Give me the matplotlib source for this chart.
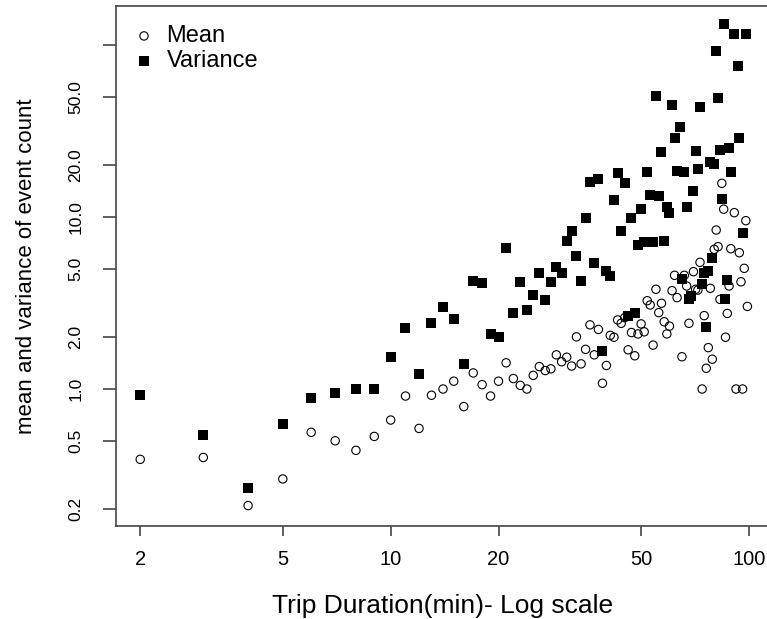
import matplotlib
matplotlib.use("Agg")
import matplotlib.pyplot as plt
from matplotlib.ticker import FixedLocator, NullLocator

plt.rcParams['font.family'] = ['Liberation Sans', 'DejaVu Sans']

# trip duration (min) and mean event count
mean_dur = [2, 3, 4, 5, 6, 7, 8, 9, 10, 11, 12, 13, 14, 15, 16, 17, 18, 19, 20,
            21, 22, 23, 24, 25, 26, 27, 28, 29, 30, 31, 32, 33, 34, 35, 36, 37,
            38, 39, 40, 41, 42, 43, 44, 45, 46, 47, 48, 49, 50, 51, 52, 53, 54,
            55, 56, 57, 58, 59, 60, 61, 62, 63, 65, 66, 67, 68, 70, 71, 72, 73,
            74, 75, 76, 77, 78, 79, 80, 81, 82, 83, 84, 85, 86, 87, 88, 89, 91,
            92, 94, 95, 96, 97, 98, 99]
mean_val = [0.39, 0.40, 0.21, 0.30, 0.56, 0.50, 0.44, 0.53, 0.66, 0.91, 0.59,
            0.92, 1.00, 1.11, 0.79, 1.24, 1.06, 0.91, 1.11, 1.42, 1.15, 1.05,
            1.00, 1.20, 1.35, 1.28, 1.31, 1.58, 1.44, 1.53, 1.36, 2.01, 1.40,
            1.70, 2.36, 1.58, 2.22, 1.08, 1.37, 2.05, 2.00, 2.52, 2.41, 2.60,
            1.69, 2.13, 1.56, 2.09, 2.39, 2.15, 3.26, 3.08, 1.80, 3.80, 2.78,
            3.15, 2.46, 2.09, 2.32, 3.73, 4.58, 3.40, 1.54, 4.58, 3.97, 2.41,
            4.81, 3.80, 3.76, 5.45, 1.00, 2.67, 1.32, 1.74, 3.85, 1.49, 6.49,
            8.40, 6.72, 3.32, 15.7, 11.1, 2.00, 2.75, 3.97, 6.54, 10.6, 1.00,
            6.20, 4.20, 1.00, 5.03, 9.52, 3.02]

# trip duration (min) and variance of event count
var_dur = [2, 3, 4, 5, 6, 7, 8, 9, 10, 11, 12, 13, 14, 15, 16, 17, 18, 19, 20,
           21, 22, 23, 24, 25, 26, 27, 28, 29, 30, 31, 32, 33, 34, 35, 36, 37,
           38, 39, 40, 41, 42, 43, 44, 45, 46, 47, 48, 49, 50, 51, 52, 53, 54,
           55, 56, 57, 58, 59, 60, 61, 62, 63, 64, 65, 66, 67, 68, 69, 70, 71,
           72, 73, 74, 75, 76, 77, 78, 79, 80, 81, 82, 83, 84, 85, 86, 87, 88,
           89, 91, 93, 94, 96, 98]
var_val = [0.92, 0.54, 0.266, 0.63, 0.89, 0.95, 1.0, 1.0, 1.54, 2.25, 1.22,
           2.41, 3.0, 2.55, 1.40, 4.24, 4.12, 2.08, 2.0, 6.58, 2.75, 4.17, 2.88,
           3.52, 4.71, 3.28, 4.2, 5.1, 4.71, 7.28, 8.26, 5.93, 4.26, 9.83, 16.0,
           5.4, 16.6, 1.67, 4.87, 4.56, 12.5, 17.9, 8.26, 15.8, 2.66, 9.83, 2.75,
           6.85, 11.1, 7.13, 18.2, 13.4, 7.13, 50.7, 13.3, 23.8, 7.28, 11.5,
           10.6, 45.0, 28.9, 18.4, 33.2, 4.34, 18.2, 11.5, 3.32, 3.47, 14.2,
           24.3, 19.0, 43.6, 4.06, 4.71, 2.28, 4.87, 20.9, 5.78, 20.2, 92.7,
           49.2, 24.6, 12.7, 132, 3.35, 4.30, 25.2, 18.3, 116, 75.8, 28.9, 8.04,
           116]

x_ticks = [2, 5, 10, 20, 50, 100]
y_ticks = [0.2, 0.5, 1, 2, 5, 10, 20, 50, 100]
y_ticklabels = ['0.2', '0.5', '1.0', '2.0', '5.0', '10.0', '20.0', '50.0', '']

fig = plt.figure(figsize=(7.67, 6.19), dpi=100)
ax = fig.add_axes([0.1508, 0.1507, 0.8528, 0.8396])

ax.scatter(mean_dur, mean_val, s=36, marker='o', facecolors='none',
           edgecolors='black', linewidths=0.8, label='Mean', zorder=3)
ax.scatter(var_dur, var_val, s=46, marker='s', color='black',
           linewidths=0, label='Variance', zorder=4)

ax.set_xscale('log')
ax.set_yscale('log')
ax.set_xlim(1.708, 114.3)
ax.set_ylim(0.1604, 168.5)

ax.xaxis.set_major_locator(FixedLocator(x_ticks))
ax.xaxis.set_minor_locator(NullLocator())
ax.set_xticklabels([str(t) for t in x_ticks])
ax.yaxis.set_major_locator(FixedLocator(y_ticks))
ax.yaxis.set_minor_locator(NullLocator())
ax.set_yticklabels(y_ticklabels, rotation=90, va='center')

for sp in ax.spines.values():
    sp.set_color('#444444')
    sp.set_linewidth(1.2)
ax.tick_params(axis='x', length=7.2, width=1.2, color='#444444',
               labelsize=14.5, pad=10.5)
ax.tick_params(axis='y', length=9.4, width=1.2, color='#444444',
               labelsize=12.5, pad=14)

ax.set_xlabel('Trip Duration(min)- Log scale', fontsize=19, va='center')
ax.xaxis.set_label_coords(0.5, -0.1545)
ax.set_ylabel('mean and variance of event count', fontsize=16, va='center')
ax.yaxis.set_label_coords(-0.137, 0.5)

ax.legend(loc='upper left', bbox_to_anchor=(0.0, 0.995), frameon=False,
          fontsize=17, handletextpad=0.45, labelspacing=0.12,
          borderaxespad=0.3, handlelength=1.0)

fig.savefig('out.png', dpi=100)
